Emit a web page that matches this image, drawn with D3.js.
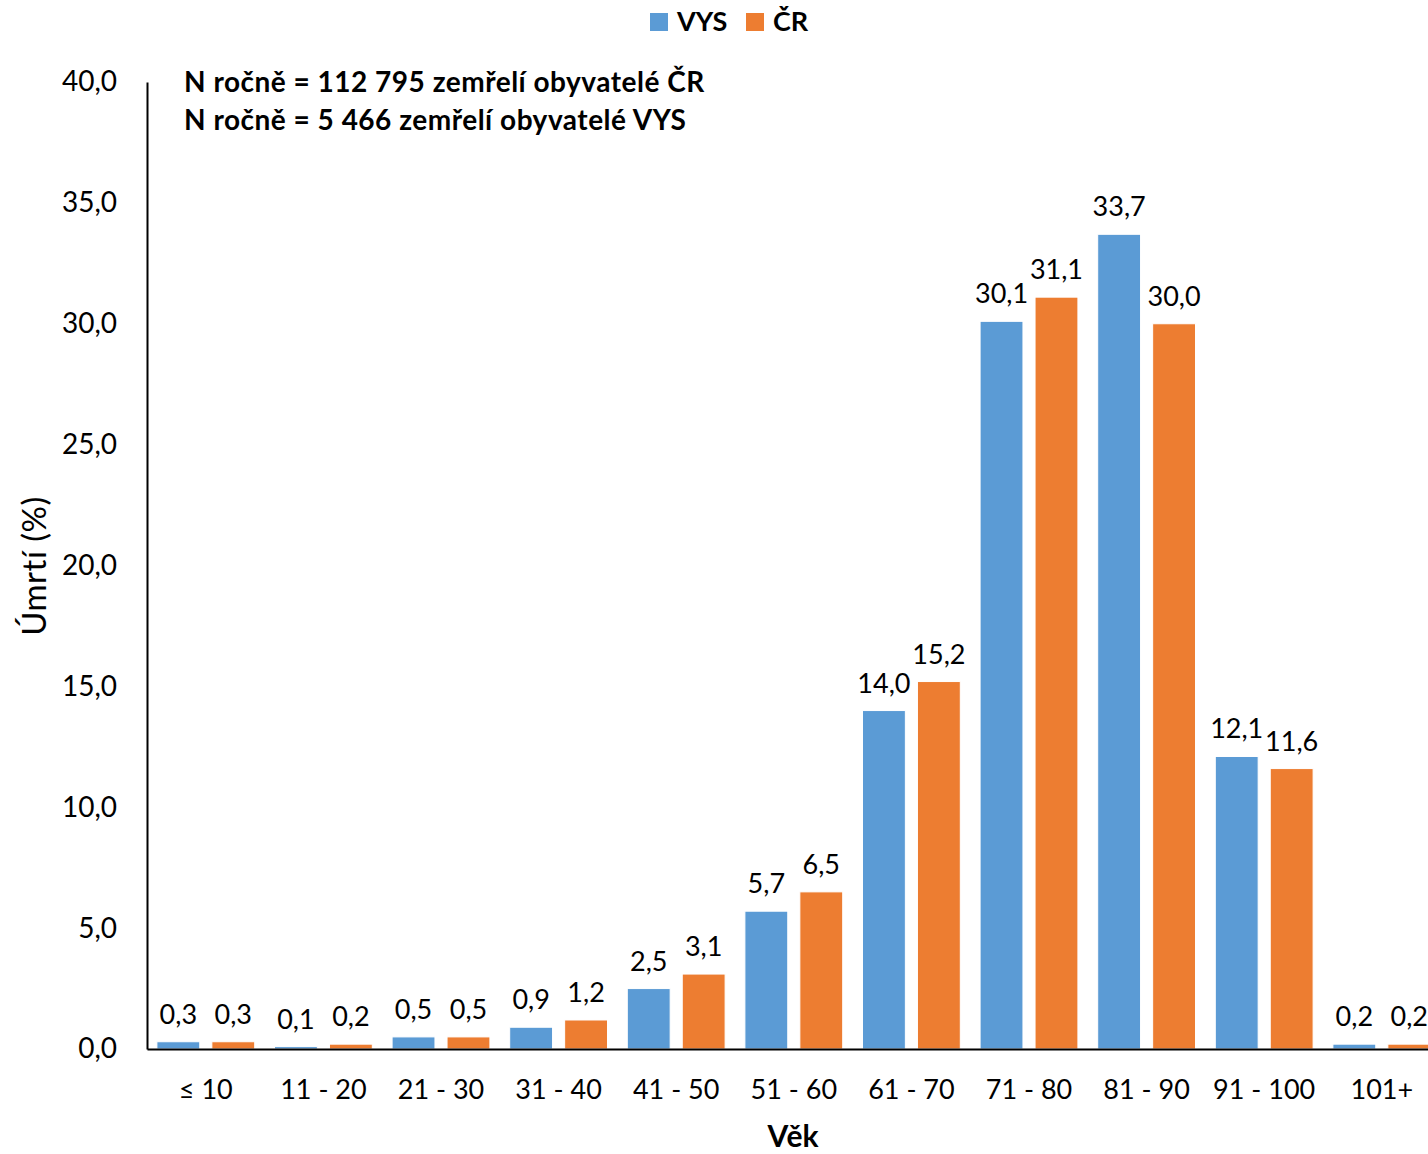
<!DOCTYPE html>
<html>
<head>
<meta charset="utf-8">
<script src="https://cdn.jsdelivr.net/npm/d3@7"></script>
<style>
  html, body { margin: 0; padding: 0; background: #fff; }
  svg { display: block; font-family: Lato, "Open Sans", sans-serif; }
</style>
</head>
<body>
<svg id="chart" width="1428" height="1154"></svg>
<script>
// Age groups (x categories)
const categories = ["≤ 10", "11 - 20", "21 - 30", "31 - 40", "41 - 50", "51 - 60", "61 - 70", "71 - 80", "81 - 90", "91 - 100", "101+"];
// Share of deaths (%) per age group
const vysValues = [0.3, 0.1, 0.5, 0.9, 2.5, 5.7, 14.0, 30.1, 33.7, 12.1, 0.2];
const crValues  = [0.3, 0.2, 0.5, 1.2, 3.1, 6.5, 15.2, 31.1, 30.0, 11.6, 0.2];
const seriesNames = ["VYS", "ČR"];
const seriesColors = ["#5B9BD5", "#ED7D31"];
const yTicks = [0, 5, 10, 15, 20, 25, 30, 35, 40];
const notes = ["N ročně = 112 795 zemřelí obyvatelé ČR", "N ročně = 5 466 zemřelí obyvatelé VYS"];

const seriesValues = [vysValues, crValues];
const rows = categories.map((c, i) => ({
  cat: c,
  vals: seriesNames.map((s, k) => ({ series: s, color: seriesColors[k], value: seriesValues[k][i] }))
}));

const svg = d3.select("#chart");
const plotLeft = 147, plotBottom = 1049, plotTop = 82;
const step = 117.6;

const czLocale = d3.formatLocale({ decimal: ",", thousands: " ", grouping: [3], currency: ["", " Kč"] });
const fmt = czLocale.format(".1f");

const x = d3.scaleBand().domain(categories).range([plotLeft, plotLeft + step * categories.length]).paddingInner(0).paddingOuter(0);
const xs = d3.scaleBand().domain(seriesNames).range([0, x.bandwidth()]).paddingInner(0.22).paddingOuter(0.18);
const y = d3.scaleLinear().domain([0, 40]).range([plotBottom, plotTop]);

// Bars
const groups = svg.append("g").selectAll("g").data(rows).join("g")
  .attr("transform", d => `translate(${x(d.cat)},0)`);

groups.selectAll("rect").data(d => d.vals).join("rect")
  .attr("x", d => xs(d.series))
  .attr("width", xs.bandwidth())
  .attr("y", d => y(d.value))
  .attr("height", d => plotBottom - y(d.value))
  .attr("fill", d => d.color)
  .attr("stroke", "#fff")
  .attr("stroke-width", 1);

// Value labels
groups.selectAll("text").data(d => d.vals).join("text")
  .attr("x", d => xs(d.series) + xs.bandwidth() / 2)
  .attr("y", d => y(d.value) - 18)
  .attr("text-anchor", "middle")
  .attr("font-size", 27)
  .attr("fill", "#000")
  .text(d => fmt(d.value));

// Y axis
const yAxis = svg.append("g").attr("transform", `translate(${plotLeft},0)`)
  .call(d3.axisLeft(y).tickValues(yTicks).tickFormat(fmt).tickSize(0).tickSizeOuter(0).tickPadding(30));
yAxis.select(".domain").attr("stroke", "#000").attr("stroke-width", 2);
yAxis.selectAll("text").attr("font-size", 28).attr("font-family", "Lato").attr("fill", "#000");

// X axis
const xAxis = svg.append("g").attr("transform", `translate(0,${plotBottom})`)
  .call(d3.axisBottom(x).tickSize(0).tickSizeOuter(0).tickPadding(31));
xAxis.select(".domain").attr("stroke", "#000").attr("stroke-width", 2);
xAxis.selectAll("text").attr("font-size", 27).attr("font-family", "Lato").attr("fill", "#000");

// Axis titles
svg.append("text")
  .attr("transform", `translate(46,566) rotate(-90)`)
  .attr("text-anchor", "middle")
  .attr("font-size", 33)
  .attr("letter-spacing", 0.5)
  .text("Úmrtí (%)");

svg.append("text")
  .attr("x", 793).attr("y", 1147)
  .attr("text-anchor", "middle")
  .attr("font-size", 30).attr("font-weight", "bold")
  .text("Věk");

// Annotation
svg.append("g").selectAll("text").data(notes).join("text")
  .attr("x", 184)
  .attr("y", (d, i) => 92 + i * 38)
  .attr("font-size", 28).attr("font-weight", "bold")
  .attr("letter-spacing", 0.5)
  .text(d => d);

// Legend
const legend = svg.append("g").selectAll("g").data(seriesNames).join("g")
  .attr("transform", (d, i) => `translate(${[650, 746][i]},13)`);
legend.append("rect").attr("width", 18).attr("height", 18).attr("fill", (d, i) => seriesColors[i]);
legend.append("text").attr("x", 27).attr("y", 18).attr("font-size", 27).attr("font-weight", "bold").text(d => d);
</script>
</body>
</html>
